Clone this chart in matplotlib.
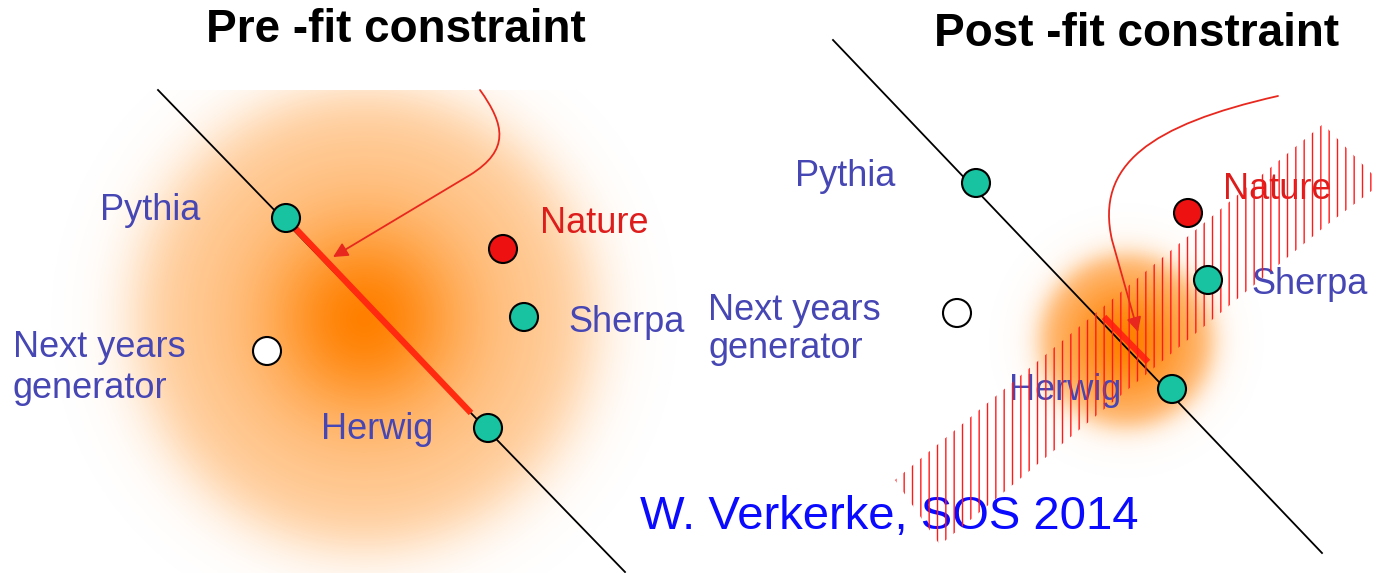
import numpy as np
import matplotlib.pyplot as plt
from matplotlib.patches import Circle, Polygon, FancyArrowPatch
from matplotlib.path import Path

plt.rcParams['font.family'] = ['Liberation Sans', 'DejaVu Sans']
plt.rcParams['hatch.linewidth'] = 1.0

W, H = 1376, 573

# picture coordinates (pixels, y downwards)
titles = ["Pre -fit constraint", "Post -fit constraint"]
title_x = [396, 1137]
title_y = [42, 46]

# generator points for left and right panels
names = ["Pythia", "Herwig", "Sherpa", "Nature", "Next"]
left_pts = [(286, 218), (488, 428), (524, 317), (503, 249), (267, 351)]
right_pts = [(976, 183), (1172, 389), (1208, 280), (1188, 213), (957, 313)]
pt_colors = ["#17c3a0", "#17c3a0", "#17c3a0", "#ee1111", "white"]

# labels: text, x (left edge), baseline y
left_labels = [("Pythia", 100, 220), ("Herwig", 321, 439), ("Sherpa", 568, 332),
               ("Nature", 540, 233), ("Next years", 13, 357), ("generator", 13, 398)]
right_labels = [("Pythia", 795, 186), ("Herwig", 1009, 400), ("Sherpa", 1251, 294),
                ("Nature", 1223, 199), ("Next years", 708, 320), ("generator", 708, 358)]
label_color = "#4646b4"

# constraint lines
left_line = [(158, 90), (625, 572)]
right_line = [(833, 40), (1322, 553)]
left_seg = [(295, 228), (471, 413)]
right_seg = [(1104, 317), (1148, 362)]

# orange blobs: centre, halo radius, halo level, core size, drawing box
blob_centres = [(364, 318), (1126, 340)]
halo_radius = [228, 86]
halo_level = [0.42, 0.5]
core_size = [100, 62]
blob_boxes = [(0, 730, 90, 573), (940, 1310, 170, 510)]

# hatched band (outline)
band = [(895, 480), (1323, 124), (1378, 180), (1378, 186), (1323, 228), (940, 545)]

# arrows
left_arrow = [(480, 90), (505, 125), (510, 150), (470, 175), (333, 257)]
right_arrow = [(1278, 96), (1150, 125), (1095, 165), (1112, 240), (1138, 332)]

fig = plt.figure(figsize=(W / 100, H / 100), dpi=100)
ax = fig.add_axes([0, 0, 1, 1])
ax.set_xlim(0, W)
ax.set_ylim(H, 0)
ax.axis('off')

core = np.array([255, 128, 0]) / 255.0
for (cx, cy), hr, hl, cs, (x0, x1, y0, y1) in zip(blob_centres, halo_radius, halo_level,
                                                   core_size, blob_boxes):
    xx, yy = np.meshgrid(np.arange(x0, x1), np.arange(y0, y1))
    r = np.hypot(xx - cx, yy - cy)
    halo = 1 / (1 + np.exp((r - hr) / (hr * 0.08)))
    a = np.clip(hl * halo + (1 - hl) * np.exp(-(r / cs) ** 2), 0, 1)
    img = np.zeros(xx.shape + (4,))
    img[..., :3] = core
    img[..., 3] = a
    ax.imshow(img, extent=(x0, x1, y1, y0), zorder=1, interpolation='bilinear')

for line in [left_line, right_line]:
    ax.plot([line[0][0], line[1][0]], [line[0][1], line[1][1]], color='black', lw=1.3, zorder=2)
for seg in [left_seg, right_seg]:
    ax.plot([seg[0][0], seg[1][0]], [seg[0][1], seg[1][1]], color='#ff2a10', lw=4.5,
            solid_capstyle='butt', zorder=3)

for pts in [left_pts, right_pts]:
    for (x, y), c in zip(pts, pt_colors):
        ax.add_patch(Circle((x, y), 14, facecolor=c, edgecolor='black', lw=1.5, zorder=6))

for labels in [left_labels, right_labels]:
    for txt, x, y in labels:
        col = "#dd1c1c" if txt == "Nature" else label_color
        ax.text(x, y, txt, color=col, fontsize=26, ha='left', va='baseline', zorder=4)

for t, x, y in zip(titles, title_x, title_y):
    ax.text(x, y, t, fontsize=33, fontweight='bold', ha='center', va='baseline', zorder=7)

ax.text(640, 529, "W. Verkerke, SOS 2014", color='#0a0aff', fontsize=34,
        ha='left', va='baseline', zorder=4)

ax.add_patch(Polygon(band, closed=True, facecolor='none', edgecolor='#ff1a1a',
                     lw=0, hatch='||', zorder=5))

for pts in [left_arrow, right_arrow]:
    codes = [Path.MOVETO, Path.CURVE4, Path.CURVE4, Path.CURVE4, Path.LINETO]
    p = Path(pts, codes)
    ax.add_patch(FancyArrowPatch(path=p, arrowstyle='-|>', mutation_scale=22,
                                 color='#e8281e', lw=1.3, zorder=5))

fig.savefig('out.png', dpi=100)
